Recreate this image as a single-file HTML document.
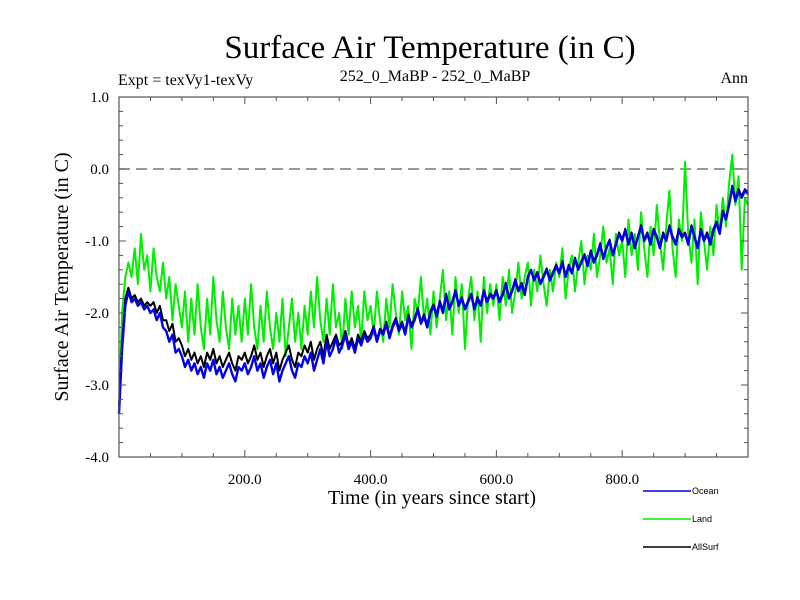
<!DOCTYPE html>
<html><head><meta charset="utf-8"><style>
body{margin:0;background:#fff}
svg{display:block}
</style></head><body>
<svg id="chart" width="800" height="600" viewBox="0 0 800 600" font-family="Liberation Serif, serif">
<text x="430" y="58" font-size="33" text-anchor="middle">Surface Air Temperature (in C)</text>
<text x="118" y="85" font-size="16">Expt = texVy1-texVy</text>
<text x="435" y="81" font-size="16" text-anchor="middle">252_0_MaBP - 252_0_MaBP</text>
<text x="748" y="83" font-size="16" text-anchor="end">Ann</text>
<text transform="translate(68,277) rotate(-90)" font-size="20" text-anchor="middle">Surface Air Temperature (in C)</text>
<text x="432" y="504" font-size="20" text-anchor="middle">Time (in years since start)</text>
<g id="plot"></g>
<g id="axes"></g>
<g id="legend" font-family="Liberation Sans, sans-serif" font-size="9"></g>
</svg>
<script>
const yTickValues=[1,0,-1,-2,-3,-4];
const yTickLabels=["1.0","0.0","-1.0","-2.0","-3.0","-4.0"];
const xTickValues=[200,400,600,800];
const xTickLabels=["200.0","400.0","600.0","800.0"];
const seriesNames=["Land","AllSurf","Ocean"];
const yearStep=5;
const ocean=[-3.4,-2.5,-1.9,-1.7,-1.85,-1.8,-1.9,-1.85,-1.95,-1.9,-2.0,-1.95,-2.1,-2.0,-2.2,-2.25,-2.4,-2.3,-2.55,-2.5,
-2.6,-2.75,-2.65,-2.8,-2.7,-2.85,-2.75,-2.9,-2.7,-2.8,-2.65,-2.85,-2.75,-2.9,-2.8,-2.7,-2.85,-2.95,-2.75,-2.8,
-2.7,-2.85,-2.75,-2.6,-2.8,-2.7,-2.9,-2.75,-2.65,-2.85,-2.7,-2.95,-2.8,-2.7,-2.6,-2.8,-2.9,-2.7,-2.75,-2.6,
-2.7,-2.55,-2.8,-2.65,-2.5,-2.7,-2.4,-2.6,-2.5,-2.35,-2.55,-2.45,-2.3,-2.5,-2.4,-2.55,-2.35,-2.45,-2.3,-2.4,
-2.35,-2.2,-2.4,-2.25,-2.3,-2.15,-2.35,-2.2,-2.1,-2.25,-2.15,-2.3,-2.05,-2.2,-2.1,-1.95,-2.15,-2.05,-2.2,-2.0,
-1.9,-2.05,-1.85,-2.0,-1.75,-1.95,-1.85,-1.7,-1.9,-1.8,-1.95,-1.85,-1.75,-1.95,-1.8,-1.9,-1.7,-1.85,-1.75,-1.8,
-1.7,-1.85,-1.75,-1.6,-1.8,-1.7,-1.55,-1.7,-1.6,-1.75,-1.5,-1.4,-1.55,-1.45,-1.6,-1.5,-1.4,-1.55,-1.45,-1.35,
-1.45,-1.3,-1.5,-1.35,-1.45,-1.25,-1.4,-1.3,-1.2,-1.35,-1.15,-1.3,-1.2,-1.05,-1.25,-1.1,-1.0,-1.2,-1.05,-0.9,
-1.0,-0.85,-1.05,-0.9,-1.1,-0.95,-0.8,-1.0,-0.9,-1.05,-0.85,-0.95,-1.1,-0.9,-1.0,-0.8,-0.95,-1.05,-0.85,-0.95,
-0.9,-1.05,-0.8,-0.95,-1.1,-0.85,-1.0,-0.9,-1.05,-0.85,-0.75,-0.9,-0.6,-0.7,-0.5,-0.25,-0.45,-0.3,-0.4,-0.3,-0.35];
const land=[-3.3,-2.0,-1.5,-1.3,-1.5,-1.1,-1.6,-0.9,-1.4,-1.2,-1.7,-1.1,-1.5,-1.7,-1.3,-1.8,-1.5,-2.1,-1.6,-1.9,
-2.2,-1.7,-2.4,-1.8,-2.3,-1.6,-2.2,-2.5,-1.8,-2.3,-1.5,-2.1,-2.4,-1.7,-2.2,-2.5,-1.8,-2.3,-1.9,-2.4,
-1.8,-2.3,-1.6,-2.2,-2.5,-1.9,-2.4,-1.7,-2.2,-2.5,-2.0,-2.4,-1.8,-2.6,-2.2,-1.8,-2.4,-2.0,-2.5,-1.9,
-2.3,-1.7,-2.2,-1.5,-2.1,-2.4,-1.8,-2.3,-1.6,-2.2,-2.0,-2.5,-1.8,-2.3,-1.7,-2.2,-1.9,-2.4,-1.7,-2.1,
-1.9,-2.3,-1.7,-2.1,-2.4,-1.8,-2.2,-1.6,-2.0,-2.3,-1.7,-2.1,-1.9,-2.5,-1.8,-2.0,-1.5,-2.1,-1.8,-2.3,
-1.7,-2.2,-1.8,-1.4,-2.1,-1.7,-2.3,-1.5,-2.0,-1.6,-2.5,-1.8,-1.5,-2.1,-1.7,-2.4,-1.5,-2.0,-1.6,-1.9,
-1.6,-2.1,-1.5,-1.9,-1.4,-2.0,-1.7,-1.3,-1.8,-1.5,-1.3,-1.9,-1.4,-1.7,-1.2,-1.6,-1.9,-1.4,-1.7,-1.3,
-1.5,-1.1,-1.8,-1.4,-1.2,-1.7,-1.3,-1.0,-1.6,-1.2,-1.4,-0.9,-1.5,-1.2,-0.8,-1.3,-1.1,-1.6,-0.9,-1.2,
-1.0,-1.5,-0.7,-1.2,-0.9,-1.4,-0.6,-1.1,-1.5,-0.8,-1.2,-0.5,-1.0,-1.4,-0.8,-0.3,-1.1,-1.5,-0.7,-1.0,
0.1,-0.9,-1.3,-0.7,-1.6,-0.6,-1.0,-1.4,-0.8,-1.2,-0.5,-0.9,-0.4,-0.8,-0.2,0.2,-0.5,-0.1,-1.4,-0.4,-0.5];
const allSurf=[-3.3,-2.4,-1.8,-1.65,-1.8,-1.75,-1.85,-1.8,-1.9,-1.85,-1.9,-1.85,-2.0,-1.9,-2.1,-2.1,-2.25,-2.15,-2.4,-2.35,
-2.45,-2.6,-2.5,-2.65,-2.55,-2.7,-2.6,-2.75,-2.55,-2.65,-2.5,-2.7,-2.6,-2.75,-2.65,-2.55,-2.7,-2.8,-2.6,-2.65,
-2.55,-2.7,-2.6,-2.45,-2.65,-2.55,-2.75,-2.6,-2.5,-2.7,-2.55,-2.8,-2.65,-2.55,-2.45,-2.65,-2.75,-2.55,-2.6,-2.45,
-2.55,-2.4,-2.65,-2.5,-2.4,-2.6,-2.3,-2.5,-2.4,-2.3,-2.45,-2.4,-2.25,-2.45,-2.35,-2.5,-2.3,-2.4,-2.25,-2.35,
-2.3,-2.18,-2.37,-2.22,-2.27,-2.12,-2.32,-2.17,-2.07,-2.22,-2.12,-2.27,-2.02,-2.17,-2.07,-1.93,-2.12,-2.02,-2.17,-1.97,
-1.88,-2.02,-1.83,-1.97,-1.73,-1.93,-1.83,-1.68,-1.88,-1.78,-1.93,-1.83,-1.73,-1.93,-1.78,-1.88,-1.68,-1.83,-1.73,-1.78,
-1.68,-1.83,-1.73,-1.58,-1.78,-1.68,-1.53,-1.68,-1.58,-1.73,-1.48,-1.42,-1.53,-1.43,-1.58,-1.48,-1.38,-1.53,-1.43,-1.33,
-1.43,-1.28,-1.48,-1.33,-1.43,-1.23,-1.38,-1.28,-1.18,-1.33,-1.13,-1.28,-1.18,-1.03,-1.23,-1.08,-0.98,-1.18,-1.03,-0.88,
-0.98,-0.83,-1.03,-0.88,-1.08,-0.93,-0.78,-0.98,-0.88,-1.03,-0.83,-0.93,-1.08,-0.88,-0.98,-0.78,-0.93,-1.03,-0.83,-0.93,
-0.88,-1.03,-0.78,-0.93,-1.08,-0.83,-0.98,-0.88,-1.03,-0.83,-0.73,-0.88,-0.58,-0.68,-0.48,-0.23,-0.43,-0.28,-0.38,-0.28,-0.33];

const L=119,R=748,T=97,B=457,xMin=0,xMax=1000,yMin=-4,yMax=1;
const xs=v=>L+(v-xMin)/(xMax-xMin)*(R-L);
const ys=v=>B-(v-yMin)/(yMax-yMin)*(B-T);
const NS="http://www.w3.org/2000/svg";
function mk(tag,parent,attrs){const e=document.createElementNS(NS,tag);for(const k in attrs)e.setAttribute(k,attrs[k]);parent.appendChild(e);return e;}
const plot=document.getElementById('plot'),axes=document.getElementById('axes'),legend=document.getElementById('legend');

const zl=mk('line',plot,{x1:L,x2:R,y1:ys(0),y2:ys(0),stroke:'#777','stroke-width':1.5,'stroke-dasharray':'11,6'});



const seriesData=[land,allSurf,ocean];
const seriesColors=['#00ee00','#000000','#0000ee'];
const seriesWidths=[2,2,2.4];
seriesData.forEach((arr,si)=>{
  const d=arr.map((v,i)=>(i?'L':'M')+xs(i*yearStep).toFixed(1)+' '+ys(v).toFixed(1)).join(' ');
  const p=mk('path',plot,{d:d,fill:'none',stroke:seriesColors[si],'stroke-width':seriesWidths[si],'stroke-linejoin':'round'});
  
  
});

const fr=mk('rect',axes,{x:L,y:T,width:R-L,height:B-T,fill:'none',stroke:'#555','stroke-width':1.2});


for(let v=50;v<xMax;v+=50){
  const major=v%200===0, len=major?7:4;
  mk('line',axes,{x1:xs(v),x2:xs(v),y1:B,y2:B-len,stroke:'#555','stroke-width':1});
  mk('line',axes,{x1:xs(v),x2:xs(v),y1:T,y2:T+len,stroke:'#555','stroke-width':1});
}
xTickValues.forEach((v,i)=>{
  const t=mk('text',axes,{x:xs(v),y:B+27,'font-size':15,'text-anchor':'middle'});
  t.textContent=xTickLabels[i];
  
  
});
for(let k=0;k<=25;k++){
  const v=yMin+k*0.2, major=k%5===0, len=major?7:4;
  mk('line',axes,{x1:L,x2:L+len,y1:ys(v),y2:ys(v),stroke:'#555','stroke-width':1});
  mk('line',axes,{x1:R,x2:R-len,y1:ys(v),y2:ys(v),stroke:'#555','stroke-width':1});
}
yTickValues.forEach((v,i)=>{
  const t=mk('text',axes,{x:L-10,y:ys(v)+5,'font-size':15,'text-anchor':'end'});
  t.textContent=yTickLabels[i];
  
  
});
const legNames=["Ocean","Land","AllSurf"],legColors=['#0000ee','#00ee00','#000000'];
legNames.forEach((n,i)=>{
  const y=491+i*28;
  const ln=mk('line',legend,{x1:643,x2:691,y1:y,y2:y,stroke:legColors[i],'stroke-width':1.6});
  
  
  const t=mk('text',legend,{x:692,y:y+3});
  t.textContent=n;
  
  
});
</script>
</body></html>
